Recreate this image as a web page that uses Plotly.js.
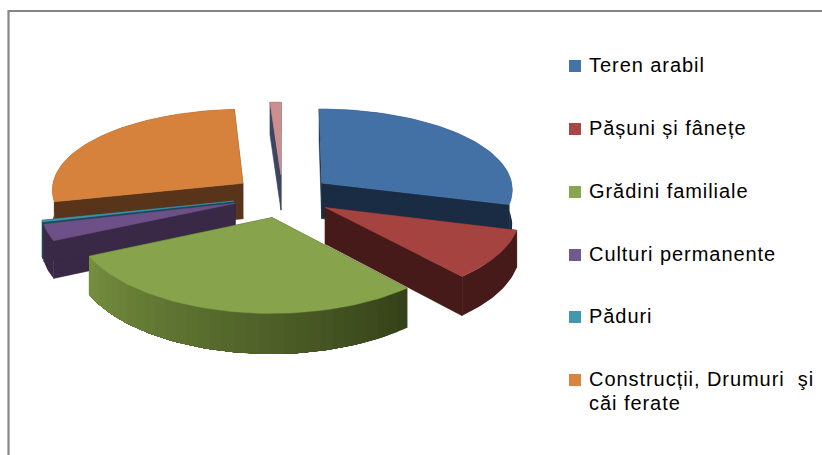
<!DOCTYPE html>
<html><head><meta charset="utf-8">
<script src="https://cdn.plot.ly/plotly-3.0.1.min.js"></script>
<style>
html,body{margin:0;padding:0;background:#fff}
.annotation-text{letter-spacing:0.95px}
</style></head><body>
<div id="chart" style="width:822px;height:455px"></div>
<script>
const categories = ["Teren arabil","Pășuni și fânețe","Grădini familiale","Culturi permanente","Păduri","Construcții, Drumuri  şi<br>căi ferate","Alte"];
const shares = [29.2, 9.4, 29.4, 3.1, 0.3, 27.6, 1];
const topColors = ["#4371a6","#a54341","#87a34b","#6e5088","#3e93ab","#d6813c","#cf8e8e"];
const sideFar = ["#1a2c44","#451a18","#364219","#392947","#1a4a58","#58341a","#3a4560"];
const sideNear = ["#1a2c44","#451a18","#76903f","#392947","#1a4a58","#58341a","#3a4560"];
const legendColors = ["#4573a7","#aa4643","#89a54e","#71588f","#4198af","#db843d"];
const drawOrder = [6,5,4,3,0,1,2];

const cx=282.5, cy=196, R=192, Ry=83, persp=0.09, perspX=0.07, depth=36, explode=0.26;
function project(u,v,h){
  const s=1/(1-persp*v), sx=1/(1-perspX*v);
  return [cx+R*u*sx, cy+Ry*v*s+depth*h*s];
}
function mix(a,b,t){
  const p=c=>[1,3,5].map(i=>parseInt(c.substr(i,2),16));
  const A=p(a),B=p(b);
  return 'rgb('+A.map((x,i)=>Math.round(x+(B[i]-x)*t)).join(',')+')';
}
const total=shares.reduce((a,b)=>a+b,0);
let acc=0;
const slices=shares.map((s,i)=>{const a0=acc/total*2*Math.PI; acc+=s; const a1=acc/total*2*Math.PI; return {i,a0,a1};});
const traces=[];
function face(pts,color,w){
  traces.push({type:'scatter',mode:'lines',x:pts.map(p=>p[0]).concat(pts[0][0]),y:pts.map(p=>p[1]).concat(pts[0][1]),
    fill:'toself',fillcolor:color,line:{color:color,width:w===undefined?0.6:w},hoverinfo:'skip',showlegend:false});
}
drawOrder.forEach(k=>{
  const {a0,a1,i}=slices[k], mid=(a0+a1)/2;
  const ox=explode*Math.sin(mid), oy=-explode*Math.cos(mid);
  const pt=(a,r,h)=>project(ox+r*Math.sin(a),oy-r*Math.cos(a),h);
  const n=Math.max(2,Math.ceil((a1-a0)/0.03));
  const angs=[];for(let j=0;j<=n;j++)angs.push(a0+(a1-a0)*j/n);
  // cut walls
  face([pt(a0,0,0),pt(a0,1,0),pt(a0,1,1),pt(a0,0,1)],sideFar[i]);
  face([pt(a1,0,0),pt(a1,1,0),pt(a1,1,1),pt(a1,0,1)],sideFar[i]);
  // outer wall in overlapping bands, so it can shade along the rim without seams
  const bands=sideFar[i]===sideNear[i]?1:24, step=Math.floor(n/bands)||1;
  for(let j=0;j<n;j+=step){
    const seg=angs.slice(j);
    const col=mix(sideFar[i],sideNear[i],Math.min(1,j/n));
    face(seg.map(a=>pt(a,1,0)).concat(seg.slice().reverse().map(a=>pt(a,1,1))),col,0);
  }
  // top
  face([pt(a0,0,0)].concat(angs.map(a=>pt(a,1,0))),topColors[i]);
});
// legend
const legendRows=[66,129,192,255,317,380];
const lineGap=24;
traces.push({type:'scatter',mode:'markers',x:legendColors.map(()=>575),y:legendRows,
  marker:{symbol:'square',size:12,color:legendColors},hoverinfo:'skip',showlegend:false});
const annotations=[];
legendColors.forEach((c,i)=>categories[i].split('<br>').forEach((line,l)=>annotations.push({
  x:586.5,y:legendRows[i]-1+l*lineGap,xref:'x',yref:'y',xanchor:'left',yanchor:'middle',align:'left',
  text:line,showarrow:false,font:{family:'"Liberation Sans",Arial,sans-serif',size:20,color:'#000'}})));
Plotly.newPlot('chart',traces,{
  width:822,height:455,margin:{l:0,r:0,t:0,b:0},paper_bgcolor:'#fff',plot_bgcolor:'#fff',showlegend:false,
  xaxis:{range:[0,822],visible:false,fixedrange:true},
  yaxis:{range:[455,0],visible:false,fixedrange:true},
  annotations,
  shapes:[{type:'path',xref:'x',yref:'y',path:'M8.5,455 L8.5,11 L822,11',line:{color:'#868686',width:2.2}}]
},{displayModeBar:false,staticPlot:true});
</script></body></html>
